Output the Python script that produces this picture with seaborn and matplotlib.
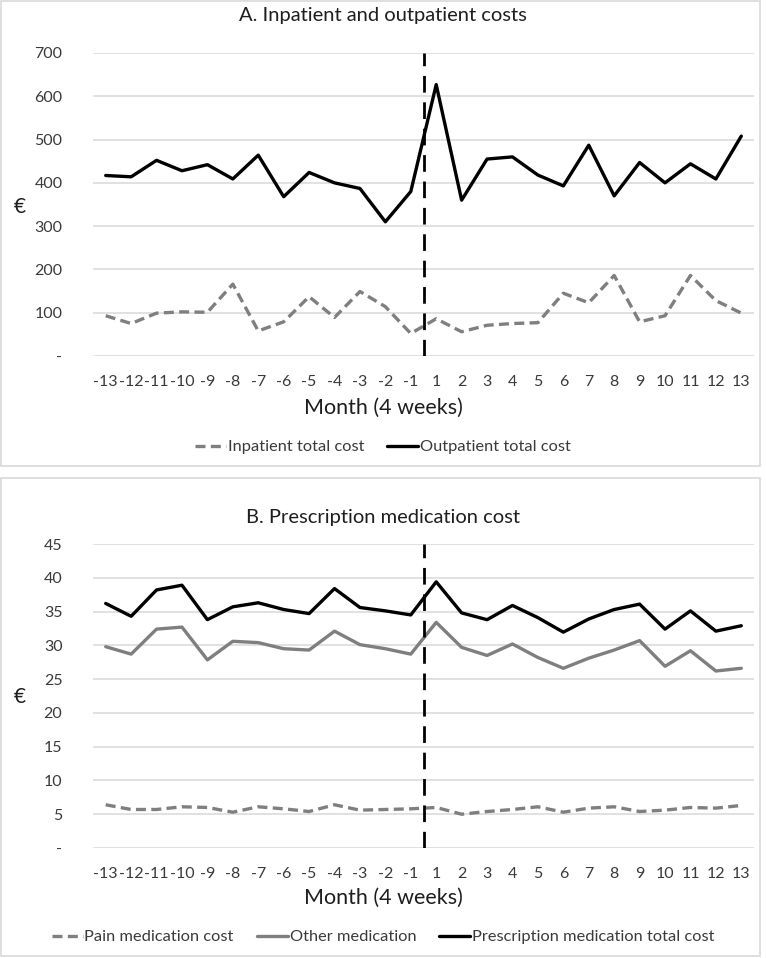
import matplotlib
matplotlib.use("Agg")
import matplotlib.pyplot as plt
from matplotlib.patches import Rectangle
from matplotlib.lines import Line2D
import seaborn as sns
import pandas as pd
import numpy as np

months = [-13, -12, -11, -10, -9, -8, -7, -6, -5, -4, -3, -2, -1,
          1, 2, 3, 4, 5, 6, 7, 8, 9, 10, 11, 12, 13]

inpatient = [93, 75, 99, 102, 101, 166, 58, 79, 137, 89, 149, 114, 52,
             86, 56, 71, 75, 77, 145, 123, 186, 79, 93, 186, 128, 99]
outpatient = [417, 414, 452, 428, 442, 409, 464, 368, 424, 400, 387, 310, 380,
              627, 360, 455, 460, 418, 393, 487, 370, 447, 400, 444, 409, 508]

pain_med = [6.4, 5.7, 5.7, 6.1, 6.0, 5.3, 6.1, 5.8, 5.4, 6.4, 5.6, 5.7, 5.8,
            6.0, 5.0, 5.4, 5.7, 6.1, 5.3, 5.9, 6.1, 5.4, 5.6, 6.0, 5.9, 6.3]
other_med = [29.8, 28.7, 32.4, 32.7, 27.85, 30.6, 30.4, 29.5, 29.3, 32.1, 30.1, 29.5, 28.7,
             33.4, 29.7, 28.5, 30.2, 28.2, 26.6, 28.1, 29.3, 30.7, 26.9, 29.2, 26.2, 26.6]
total_med = [36.2, 34.3, 38.2, 38.9, 33.8, 35.7, 36.3, 35.3, 34.7, 38.4, 35.6, 35.1, 34.5,
             39.4, 34.8, 33.8, 35.9, 34.1, 31.95, 33.9, 35.3, 36.1, 32.4, 35.1, 32.1, 32.9]

titles = ["A. Inpatient and outpatient costs", "B. Prescription medication cost"]
xlabel = "Month (4 weeks)"
ylabel = "€"
yticks_a = [0, 100, 200, 300, 400, 500, 600, 700]
yticks_b = [0, 5, 10, 15, 20, 25, 30, 35, 40, 45]
legend_a = ["Inpatient total cost", "Outpatient total cost"]
legend_b = ["Pain medication cost", "Other medication", "Prescription medication total cost"]

sns.set_theme(style="white")
plt.rcParams['font.family'] = ['Lato', 'DejaVu Sans']

W, H = 766, 958
fig = plt.figure(figsize=(W / 100, H / 100), dpi=100)
fig.patch.set_facecolor("white")

GRAY = "#7f7f7f"
GRID = "#d9d9d9"
TXT = "#3a3a3a"
LW = 2.4
TICK_FS = 11.5
DASH = (0, (3, 1.6))

pos = np.arange(len(months))


def fx(px):
    return px / W


def fy(py):
    return 1 - py / H


# panel borders
fig.add_artist(Rectangle((fx(1), fy(466)), fx(759), (466 - 1) / H, transform=fig.transFigure,
                         fill=False, edgecolor=GRID, lw=1.2))
fig.add_artist(Rectangle((fx(1), fy(956)), fx(759), (956 - 478) / H, transform=fig.transFigure,
                         fill=False, edgecolor=GRID, lw=1.2))


def style_axes(ax, yticks, ylim, xlabel_y):
    ax.set_xlim(-0.5, len(months) - 0.5)
    ax.set_ylim(*ylim)
    ax.set_yticks(yticks)
    ax.set_yticklabels(["-" if v == 0 else str(v) for v in yticks], fontsize=TICK_FS, color=TXT)
    ax.set_xticks(pos)
    ax.set_xticklabels([str(m) for m in months], fontsize=TICK_FS, color=TXT)
    ax.tick_params(axis="y", length=0, pad=22)
    ax.tick_params(axis="x", length=0, pad=14)
    for s in ax.spines.values():
        s.set_visible(False)
    ax.grid(axis="y", color=GRID, lw=1.1)
    ax.grid(axis="x", visible=False)
    ax.set_axisbelow(True)
    ax.set_xlabel("")
    ax.set_ylabel("")
    fig.text(0.5, fy(xlabel_y), xlabel, ha="center", va="center", fontsize=15.5, color="#1e1e1e")
    ax.axvline(12.5, color="black", lw=2.0, dashes=(6, 3.5))


def legend(handles, labels, y):
    fig.legend(handles, labels, loc="center", bbox_to_anchor=(0.5, fy(y)), ncol=len(labels),
               frameon=False, fontsize=11.8, handlelength=1.9, handletextpad=0.1,
               columnspacing=1.4, labelcolor=TXT)


# Panel A
axA = fig.add_axes([fx(93), fy(356), fx(754 - 93), (356 - 53) / H])
dfA = pd.DataFrame({"pos": pos, "inpatient": inpatient, "outpatient": outpatient})
sns.lineplot(data=dfA, x="pos", y="inpatient", ax=axA, color=GRAY, lw=LW, linestyle=DASH)
sns.lineplot(data=dfA, x="pos", y="outpatient", ax=axA, color="black", lw=LW)
style_axes(axA, yticks_a, (0, 700), 408)
fig.text(0.5, fy(15), titles[0], ha="center", va="center", fontsize=14.5, color="#1e1e1e")
fig.text(fx(20), fy(207), ylabel, ha="center", va="center", fontsize=15, color="#1e1e1e")
legend([Line2D([], [], color=GRAY, lw=LW, linestyle=DASH),
        Line2D([], [], color="black", lw=LW)], legend_a, 447)

# Panel B
axB = fig.add_axes([fx(93), fy(848), fx(754 - 93), (848 - 544) / H])
dfB = pd.DataFrame({"pos": pos, "pain": pain_med, "other": other_med, "total": total_med})
sns.lineplot(data=dfB, x="pos", y="pain", ax=axB, color=GRAY, lw=LW, linestyle=DASH)
sns.lineplot(data=dfB, x="pos", y="other", ax=axB, color=GRAY, lw=LW)
sns.lineplot(data=dfB, x="pos", y="total", ax=axB, color="black", lw=LW)
style_axes(axB, yticks_b, (0, 45), 898)
fig.text(0.5, fy(518), titles[1], ha="center", va="center", fontsize=14.5, color="#1e1e1e")
fig.text(fx(20), fy(697), ylabel, ha="center", va="center", fontsize=15, color="#1e1e1e")
legend([Line2D([], [], color=GRAY, lw=LW, linestyle=DASH),
        Line2D([], [], color=GRAY, lw=LW),
        Line2D([], [], color="black", lw=LW)], legend_b, 937)

fig.savefig("out.png", dpi=100, facecolor="white")
